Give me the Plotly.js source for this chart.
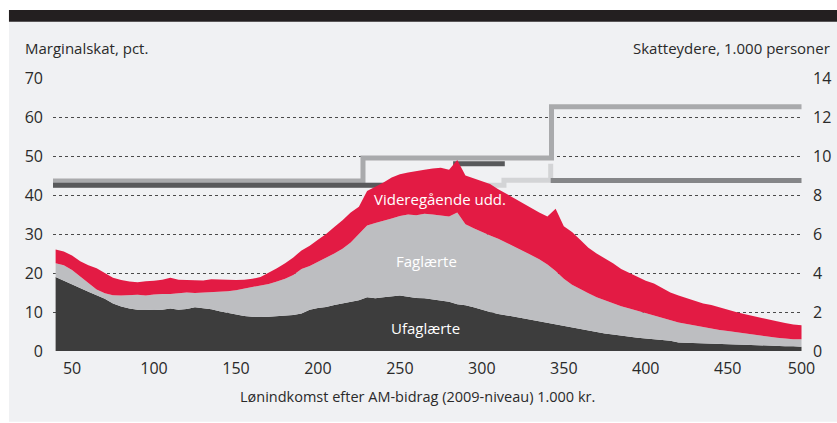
<!DOCTYPE html>
<html>
<head>
<meta charset="utf-8">
<script src="https://cdn.plot.ly/plotly-3.0.1.min.js"></script>
<style>html,body{margin:0;padding:0;background:#fff;}#chart{width:837px;height:423px;}</style>
</head>
<body>
<div id="chart"></div>
<script>
// Income, 1.000 kr. (after AM-bidrag, 2009 level)
const income = [40,45,50,55,60,65,70,75,80,85,90,95,100,105,110,115,120,125,130,135,140,145,150,155,160,165,170,175,180,185,190,195,200,205,210,215,220,225,230,235,240,245,250,255,260,265,270,275,280,285,290,295,300,305,310,315,320,325,330,335,340,345,350,355,360,365,370,375,380,385,390,395,400,405,410,415,420,425,430,435,440,445,450,455,460,465,470,475,480,485,490,495];
// Taxpayers, 1.000 persons
const ufaglaerte = [3.8,3.6,3.4,3.24,3.04,2.86,2.68,2.44,2.28,2.18,2.12,2.12,2.1,2.12,2.18,2.12,2.16,2.24,2.2,2.14,2.04,1.96,1.88,1.8,1.76,1.74,1.76,1.78,1.8,1.84,1.92,2.12,2.2,2.26,2.36,2.44,2.52,2.6,2.76,2.7,2.76,2.8,2.84,2.78,2.72,2.7,2.64,2.58,2.52,2.4,2.34,2.24,2.1,2.0,1.9,1.84,1.76,1.68,1.6,1.52,1.44,1.38,1.3,1.22,1.14,1.06,0.98,0.9,0.84,0.78,0.72,0.68,0.64,0.6,0.56,0.52,0.44,0.42,0.4,0.39,0.38,0.36,0.34,0.33,0.32,0.3,0.29,0.28,0.26,0.25,0.24,0.22];
const faglaerte = [0.7,0.8,0.76,0.6,0.46,0.3,0.28,0.42,0.56,0.68,0.76,0.72,0.8,0.8,0.74,0.84,0.84,0.74,0.8,0.9,1.02,1.1,1.24,1.4,1.5,1.62,1.68,1.78,1.9,2.06,2.28,2.24,2.36,2.5,2.64,2.8,3.04,3.4,3.68,3.86,3.94,4.0,4.08,4.22,4.24,4.34,4.36,4.38,4.38,4.7,4.16,4.06,4.0,3.92,3.86,3.72,3.6,3.48,3.32,3.18,3.0,2.72,2.4,2.18,2.02,1.9,1.78,1.7,1.62,1.52,1.46,1.38,1.3,1.22,1.16,1.08,1.02,0.96,0.9,0.83,0.78,0.72,0.68,0.63,0.58,0.54,0.49,0.44,0.42,0.39,0.36,0.38];
const videregaaende = [0.7,0.7,0.74,0.76,0.9,1.08,1.04,0.9,0.8,0.7,0.64,0.74,0.7,0.74,0.84,0.7,0.64,0.66,0.62,0.64,0.6,0.58,0.52,0.46,0.44,0.44,0.56,0.68,0.8,0.9,0.96,1.04,1.14,1.24,1.36,1.46,1.54,1.4,1.76,1.84,1.94,2.1,2.14,2.16,2.28,2.26,2.36,2.44,2.4,2.7,2.5,2.54,2.6,2.64,2.54,2.5,2.44,2.4,2.4,2.4,2.46,3.2,2.7,2.7,2.54,2.34,2.24,2.16,2.04,1.9,1.82,1.74,1.66,1.64,1.52,1.4,1.38,1.32,1.26,1.22,1.2,1.16,1.08,1.04,1.0,0.96,0.92,0.88,0.84,0.8,0.76,0.72];

// Marginal tax step lines, pct.
const stepA_x = [38.4,227.5,227.5,342.5,342.5,495];
const stepA_y = [43.6,43.6,49.5,49.5,62.6,62.6];
const stepB_x = [38.4,284,284,314];
const stepB_y = [42.5,42.5,48.0,48.0];
const stepC_x = [38.4,313.5,313.5,342,342];
const stepC_y = [42.5,42.5,43.8,43.8,48.0];
const stepD_x = [342,495];
const stepD_y = [43.7,43.7];

const xTicks = [50,100,150,200,250,300,350,400,450,495];
const xTickText = ['50','100','150','200','250','300','350','400','450','500'];

const font = 'Open Sans, Noto Sans, sans-serif';
const txt = '#2a2a2a';

const traces = [
  {x: income, y: ufaglaerte, type:'scatter', mode:'lines', stackgroup:'a', yaxis:'y2', line:{width:0, color:'#3d3d3d'}, fillcolor:'#3d3d3d', name:'Ufaglærte', hoverinfo:'skip'},
  {x: income, y: faglaerte, type:'scatter', mode:'lines', stackgroup:'a', yaxis:'y2', line:{width:0, color:'#bdbec1'}, fillcolor:'#bdbec1', name:'Faglærte', hoverinfo:'skip'},
  {x: income, y: videregaaende, type:'scatter', mode:'lines', stackgroup:'a', yaxis:'y2', line:{width:0, color:'#e31b44'}, fillcolor:'#e31b44', name:'Videregående udd.', hoverinfo:'skip'},
  {x: stepC_x, y: stepC_y, type:'scatter', mode:'lines', line:{width:5, color:'#d3d4d6'}, hoverinfo:'skip'},
  {x: stepD_x, y: stepD_y, type:'scatter', mode:'lines', line:{width:5, color:'#858688'}, hoverinfo:'skip'},
  {x: stepA_x, y: stepA_y, type:'scatter', mode:'lines', line:{width:5, color:'#a9aaac'}, hoverinfo:'skip'},
  {x: stepB_x, y: stepB_y, type:'scatter', mode:'lines', line:{width:5, color:'#58595b'}, hoverinfo:'skip'}
];

const layout = {
  width: 837, height: 423,
  margin: {l:53, r:35, t:78, b:72},
  paper_bgcolor: '#ffffff',
  plot_bgcolor: 'rgba(0,0,0,0)',
  showlegend: false,
  font: {family: font, size: 15, color: txt},
  xaxis: {
    range: [38.4, 495.3], showgrid:false, zeroline:false, showline:false,
    tickmode:'array', tickvals: xTicks, ticktext: xTickText, ticks:'',
    ticklabelstandoff: 6, tickfont:{size:16, color:txt}
  },
  yaxis: {
    range: [0, 70], dtick: 10, showgrid: true, gridcolor:'#4a4a4a', griddash:'dot', gridwidth:1,
    zeroline:false, showline:false, ticks:'', ticklabelstandoff: 9, tickfont:{size:16, color:txt}
  },
  yaxis2: {
    range: [0, 14], dtick: 2, overlaying:'y', side:'right', showgrid:false, zeroline:false,
    showline:false, ticks:'', ticklabelstandoff: 10, tickfont:{size:16, color:txt}
  },
  shapes: [
    {type:'rect', xref:'paper', yref:'paper', x0:-0.0588, x1:1.0468, y0:-0.259, y1:1.206, fillcolor:'#f0f1f3', line:{width:0}, layer:'below'},
    {type:'rect', xref:'paper', yref:'paper', x0:-0.0588, x1:1.0468, y0:1.206, y1:1.249, fillcolor:'#231f20', line:{width:0}, layer:'below'}
  ],
  annotations: [
    {text:'Marginalskat, pct.', xref:'paper', yref:'paper', x:-0.040, y:1.110, xanchor:'left', yanchor:'middle', showarrow:false, font:{size:15, color:txt}},
    {text:'Skatteydere, 1.000 personer', xref:'paper', yref:'paper', x:1.040, y:1.110, xanchor:'right', yanchor:'middle', showarrow:false, font:{size:15, color:txt}},
    {text:'Lønindkomst efter AM-bidrag (2009-niveau) 1.000 kr.', xref:'paper', yref:'paper', x:0.487, y:-0.168, xanchor:'center', yanchor:'middle', showarrow:false, font:{size:14.5, color:txt}},
    {text:'Videregående udd.', xref:'x', yref:'y', x:274.5, y:39, xanchor:'center', yanchor:'middle', showarrow:false, font:{size:15, color:'#ffffff'}},
    {text:'Faglærte', xref:'x', yref:'y', x:266, y:23, xanchor:'center', yanchor:'middle', showarrow:false, font:{size:15, color:'#ffffff'}},
    {text:'Ufaglærte', xref:'x', yref:'y', x:265.5, y:5.9, xanchor:'center', yanchor:'middle', showarrow:false, font:{size:15, color:'#ffffff'}}
  ]
};

Plotly.newPlot('chart', traces, layout, {staticPlot:true, displayModeBar:false});
</script>
</body>
</html>
